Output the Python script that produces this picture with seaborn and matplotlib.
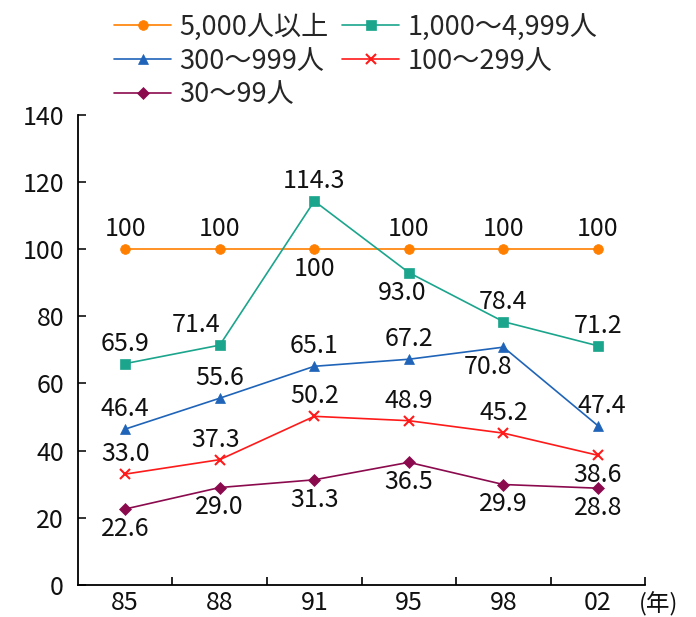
import matplotlib
matplotlib.use("Agg")
import matplotlib.pyplot as plt
import seaborn as sns
import pandas as pd
import numpy as np

sns.set_theme(style="white")
plt.rcParams['font.family'] = ['Noto Sans CJK JP', 'DejaVu Sans']

years = ["85", "88", "91", "95", "98", "02"]
series_names = ["5,000人以上", "1,000～4,999人", "300～999人", "100～299人", "30～99人"]
s5000 = [100, 100, 100, 100, 100, 100]
s1000 = [65.9, 71.4, 114.3, 93.0, 78.4, 71.2]
s300 = [46.4, 55.6, 65.1, 67.2, 70.8, 47.4]
s100 = [33.0, 37.3, 50.2, 48.9, 45.2, 38.6]
s30 = [22.6, 29.0, 31.3, 36.5, 29.9, 28.8]

# label placement (styling): 1 above, -1 below; horizontal nudge in points
pos5000 = [1, 1, -1, 1, 1, 1]
pos1000 = [1, 1, 1, -1, 1, 1]
pos300 = [1, 1, 1, 1, -1, 1]
pos100 = [1, 1, 1, 1, 1, -1]
pos30 = [-1, -1, -1, -1, -1, -1]
dx5000 = [0, 0, 0, 0, 0, 0]
dx1000 = [0, -17, 0, -5, 0, 0]
dx300 = [0, 0, 0, 0, -11, 3]
dx100 = [0, -3, 0, 0, 0, 0]
dx30 = [0, 0, 0, 0, 0, 0]

values = [s5000, s1000, s300, s100, s30]
positions = [pos5000, pos1000, pos300, pos100, pos30]
nudges = [dx5000, dx1000, dx300, dx100, dx30]
colors = ["#FF7F00", "#1BA58C", "#1F64B8", "#FF1A1A", "#8B0A4E"]
markers = ["o", "s", "^", "x", "D"]
msizes = [7, 7, 7, 7, 6.5]

rows = []
for name, vals in zip(series_names, values):
    for i, v in enumerate(vals):
        rows.append({"series": name, "idx": i, "value": v})
df = pd.DataFrame(rows)

fig = plt.figure(figsize=(6.96, 6.17), dpi=100)
ax = fig.add_axes([0.112, 0.052, 0.815, 0.762])

FS = 18
LFS = 19.5
handles = {}
for name, col, mk, ms, pos, dxs, vals in zip(series_names, colors, markers, msizes, positions, nudges, values):
    sub = df[df["series"] == name]
    sns.lineplot(data=sub, x="idx", y="value", ax=ax, color=col, marker=mk,
                 markersize=ms, markeredgecolor=col, markeredgewidth=1.5 if mk == "x" else 0.5,
                 linewidth=1.2, legend=False)
    handles[name] = ax.lines[-1]
    for i, (v, p, dx) in enumerate(zip(vals, pos, dxs)):
        txt = "100" if v == 100 else f"{v:.1f}"
        ax.annotate(txt, (i, v), xytext=(dx, 5 * p), textcoords="offset points",
                    ha="center", va="bottom" if p > 0 else "top", fontsize=FS, color="#111111")

ax.set_xlim(-0.5, 5.5)
ax.set_ylim(0, 140)
ax.set_yticks(np.arange(0, 141, 20))
ax.set_xticks(range(len(years)))
ax.set_xticklabels(years)
ax.set_xticks(np.arange(0.5, 6.0, 1.0), minor=True)
ax.tick_params(axis="x", which="major", length=0, labelsize=FS, pad=4, colors="#111111")
ax.tick_params(axis="x", which="minor", direction="in", length=6, width=1.2, color="black", bottom=True)
ax.tick_params(axis="y", direction="in", length=6, width=1.2, left=True, labelsize=FS, pad=10, colors="#111111")
ax.set_xlabel("")
ax.set_ylabel("")
for s in ["top", "right"]:
    ax.spines[s].set_visible(False)
for s in ["left", "bottom"]:
    ax.spines[s].set_color("black")
    ax.spines[s].set_linewidth(1.3)
ax.grid(False)
fig.text(0.918, 0.052 - 0.012, "(年)", ha="left", va="top", fontsize=FS - 1, color="#111111")

order = [series_names[0], series_names[2], series_names[4], series_names[1], series_names[3]]
fig.legend([handles[n] for n in order], order, loc="upper left", bbox_to_anchor=(0.145, 1.0),
           ncol=2, frameon=False, fontsize=LFS, handlelength=2.1, handletextpad=0.3,
           columnspacing=0.5, labelspacing=0.25, borderaxespad=0.1)

fig.savefig("out.png", dpi=100)
